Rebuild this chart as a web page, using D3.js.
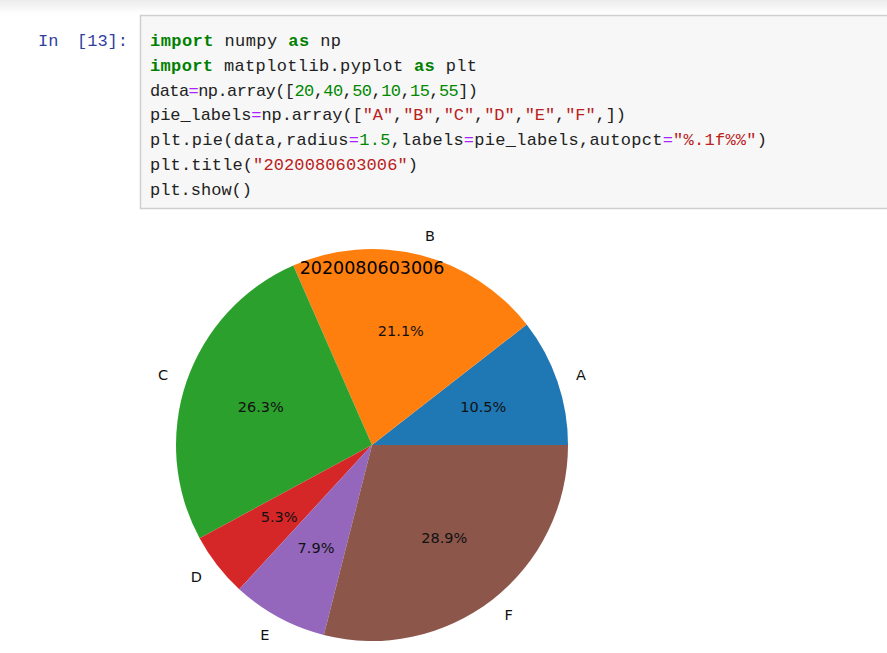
<!DOCTYPE html>
<html><head><meta charset="utf-8">
<script src="https://cdn.jsdelivr.net/npm/d3@7"></script>
<style>body{margin:0;background:#fff;}svg{display:block;}</style>
</head><body>
<script>
// ---- data ----
const values = [20, 40, 50, 10, 15, 55];
const pieLabels = ["A", "B", "C", "D", "E", "F"];
const colors = ["#1f77b4", "#ff7f0e", "#2ca02c", "#d62728", "#9467bd", "#8c564b"];
const title = "2020080603006";
const codeLines = [
  [["import","kw"],[" numpy ","t"],["as","kw"],[" np","t"]],
  [["import","kw"],[" matplotlib.pyplot ","t"],["as","kw"],[" plt","t"]],
  [["data","t"],["=","op"],["np.array([","t"],["20","num"],[",","t"],["40","num"],[",","t"],["50","num"],[",","t"],["10","num"],[",","t"],["15","num"],[",","t"],["55","num"],["])","t"]],
  [["pie_labels","t"],["=","op"],["np.array([","t"],["\"A\"","str"],[",","t"],["\"B\"","str"],[",","t"],["\"C\"","str"],[",","t"],["\"D\"","str"],[",","t"],["\"E\"","str"],[",","t"],["\"F\"","str"],[",])","t"]],
  [["plt.pie(data,radius","t"],["=","op"],["1.5","num"],[",labels","t"],["=","op"],["pie_labels,autopct","t"],["=","op"],["\"%.1f%%\"","str"],[")","t"]],
  [["plt.title(","t"],["\"2020080603006\"","str"],[")","t"]],
  [["plt.show()","t"]]
];
const lineEnds = [341, 477, 478, 626, 767, 418, 252];

const W = 887, H = 653;
const svg = d3.select("body").append("svg").attr("width", W).attr("height", H);

// top shadow
const defs = svg.append("defs");
const g = defs.append("linearGradient").attr("id","sh").attr("x1",0).attr("y1",0).attr("x2",0).attr("y2",1);
g.append("stop").attr("offset","0%").attr("stop-color","#ececec");
g.append("stop").attr("offset","100%").attr("stop-color","#ffffff");
svg.append("rect").attr("x",0).attr("y",0).attr("width",W).attr("height",14).attr("fill","url(#sh)");

// code cell
svg.append("rect").attr("x",140.5).attr("y",15.5).attr("width",800).attr("height",193)
  .attr("fill","#f7f7f7").attr("stroke","#cfcfcf").attr("stroke-width",1.5);

const prompt = svg.append("text").attr("y",46)
  .attr("font-family","Liberation Mono, monospace").attr("font-size",17).attr("fill","#303f9f");
prompt.append("tspan").attr("x",38).text("In");
prompt.append("tspan").attr("x",128).attr("text-anchor","end").text("[13]:");

const styleMap = {
  kw:{fill:"#008000",weight:"bold"}, t:{fill:"#222222",weight:"normal"},
  op:{fill:"#aa22ff",weight:"normal"}, num:{fill:"#008800",weight:"normal"},
  str:{fill:"#ba2121",weight:"normal"}
};
codeLines.forEach((line,i)=>{
  const t = svg.append("text").attr("x",150).attr("y",46+i*24.8)
    .attr("font-family","Liberation Mono, monospace").attr("font-size",17)
    .attr("textLength", lineEnds[i]-150).attr("lengthAdjust","spacing")
    .attr("xml:space","preserve").style("white-space","pre");
  line.forEach(tok=>{
    t.append("tspan").attr("fill",styleMap[tok[1]].fill).attr("font-weight",styleMap[tok[1]].weight).text(tok[0]);
  });
});

// pie
const cx = 372, cy = 445, r = 196;
const pg = svg.append("g").attr("transform",`translate(${cx},${cy})`);
const pie = d3.pie().sort(null).startAngle(Math.PI/2).endAngle(Math.PI/2 - 2*Math.PI);
const arcs = pie(values);
const arc = d3.arc().innerRadius(0).outerRadius(r);
pg.selectAll("path.slice").data(arcs).enter().append("path")
  .attr("d",arc).attr("fill",(d,i)=>colors[i]);

const total = d3.sum(values);
const fmt = d3.format(".1f");
arcs.forEach((d,i)=>{
  const mid = (d.startAngle+d.endAngle)/2;
  const sx = Math.sin(mid), sy = -Math.cos(mid);
  pg.append("text").attr("x",sx*r*1.1).attr("y",sy*r*1.1)
    .attr("text-anchor", sx>0 ? "start":"end").attr("dominant-baseline","central")
    .attr("font-family","DejaVu Sans, sans-serif").attr("font-size",14.5).attr("fill","#111")
    .text(pieLabels[i]);
  pg.append("text").attr("x",sx*r*0.6).attr("y",sy*r*0.6)
    .attr("text-anchor","middle").attr("dominant-baseline","central")
    .attr("font-family","DejaVu Sans, sans-serif").attr("font-size",14.5).attr("fill","#111")
    .text(fmt(values[i]/total*100)+"%");
});

svg.append("text").attr("x",cx).attr("y",274).attr("text-anchor","middle")
  .attr("font-family","DejaVu Sans, sans-serif").attr("font-size",17.5).attr("fill","#000")
  .text(title);
</script>
</body></html>
